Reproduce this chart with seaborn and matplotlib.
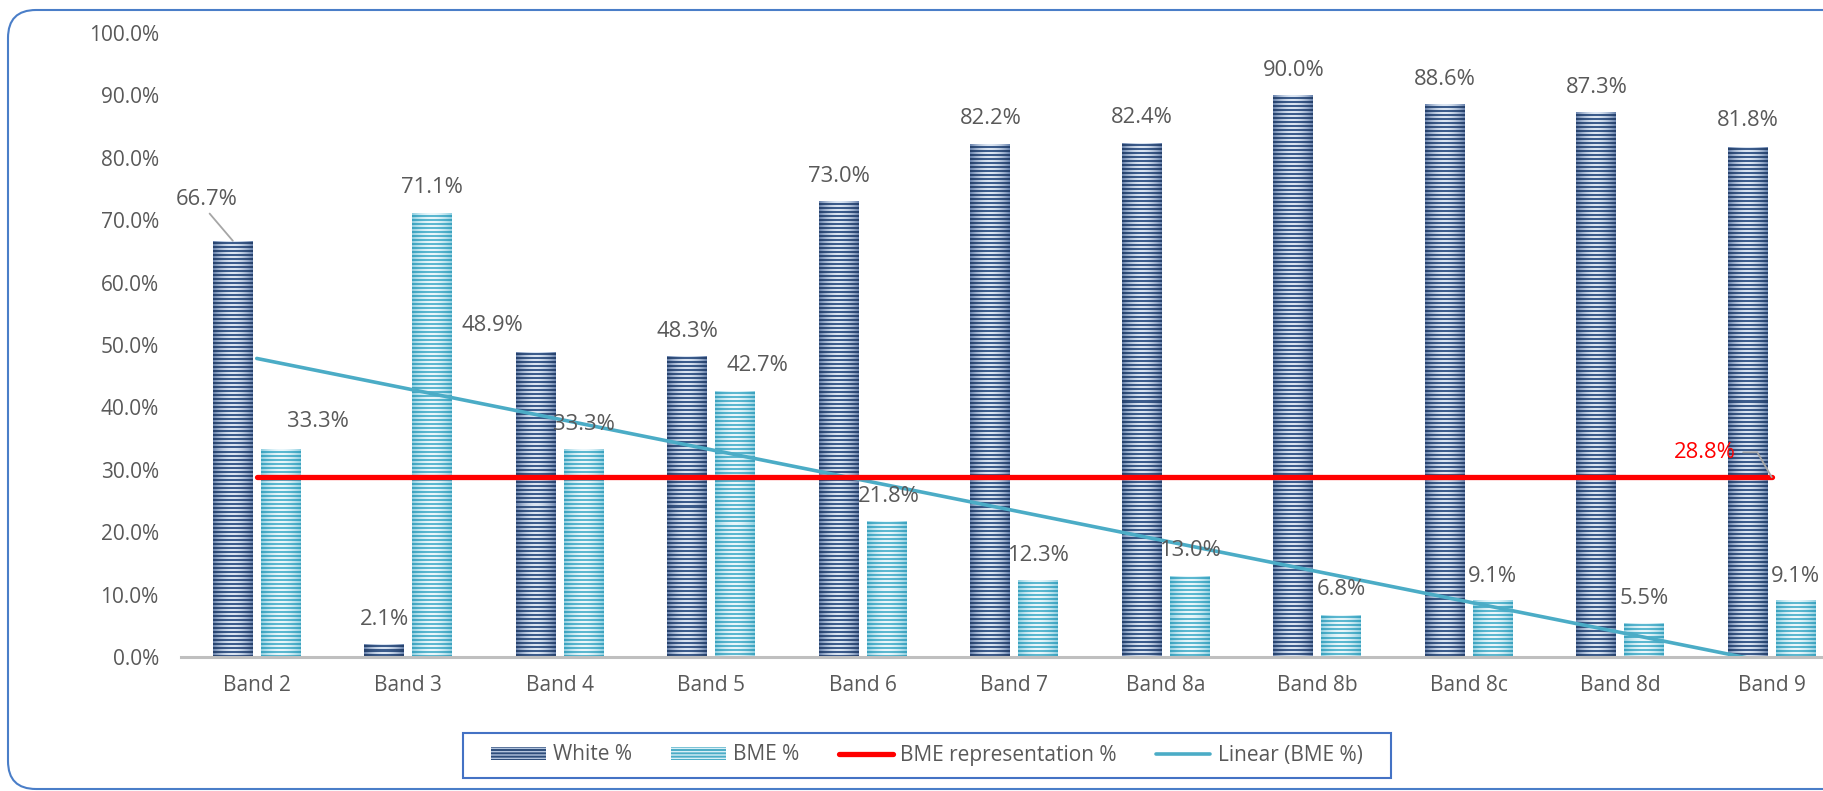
import numpy as np
import pandas as pd
import matplotlib
matplotlib.use("Agg")
import matplotlib.pyplot as plt
import seaborn as sns
from matplotlib.patches import FancyBboxPatch, Rectangle, Patch
from matplotlib.lines import Line2D
from matplotlib.transforms import IdentityTransform
from matplotlib.colors import to_rgb

# ---------------- data ----------------
categories = ["Band 2", "Band 3", "Band 4", "Band 5", "Band 6", "Band 7",
              "Band 8a", "Band 8b", "Band 8c", "Band 8d", "Band 9"]
white_pct = [66.7, 2.1, 48.9, 48.3, 73.0, 82.2, 82.4, 90.0, 88.6, 87.3, 81.8]
bme_pct = [33.3, 71.1, 33.3, 42.7, 21.8, 12.3, 13.0, 6.8, 9.1, 5.5, 9.1]
bme_representation = [28.8] * len(categories)
series_names = ["White %", "BME %"]
legend_labels = ["White %", "BME %", "BME representation %", "Linear (BME %)"]
y_ticks = [0, 10, 20, 30, 40, 50, 60, 70, 80, 90, 100]

# label offsets (pixels) for data labels, as placed in the original
white_dx = [-26, 0, -43, 0, 0, 0, 0, 0, 0, 0, 0]
white_dy = [41, 24, 26, 24, 25, 26, 25, 25, 25, 25, 26]
bme_dx = [37, 0, 0, 22, 2, 0, 0, 0, 0, 0, 0]
bme_dy = [28, 26, 25, 25, 24, 25, 25, 25, 24, 24, 24]

sns.set_theme(style="white")
plt.rcParams["font.family"] = ["Open Sans", "DejaVu Sans"]

W, H = 1824, 791
fig = plt.figure(figsize=(W / 100, H / 100), dpi=100)
fig.patch.set_facecolor("white")
ax = fig.add_axes([181 / W, 1 - 657 / H, (1847.5 - 181) / W, (657 - 33) / H])
ax.set_facecolor("none")

df = pd.DataFrame({
    "Band": categories * 2,
    "Series": [series_names[0]] * len(categories) + [series_names[1]] * len(categories),
    "Value": white_pct + bme_pct,
})
sns.barplot(data=df, x="Band", y="Value", hue="Series", order=categories,
            hue_order=series_names, palette=["#35557f", "#4BACC6"],
            width=0.632, gap=0.165, legend=False, ax=ax, linewidth=0,
            errorbar=None, saturation=1)

ax.set_xlim(-0.5, len(categories) - 0.5)
ax.set_ylim(0, 100)

# ---------- striped / cylindrical texture on bars ----------
def mix(c1, c2, g):
    c1 = np.array(to_rgb(c1)); c2 = np.array(to_rgb(c2))
    return c1[None, :] * (1 - g)[:, None] + c2[None, :] * g[:, None]

styles = [
    dict(ed="#26416b", cd="#3d5d8d", el="#6983ad", cl="#dbe5f2"),
    dict(ed="#3aa2bf", cd="#5db9d1", el="#8fcfe0", cl="#eaf7fb"),
]
py_per_unit = (ax.transData.transform((0, 1))[1] - ax.transData.transform((0, 0))[1])
px_per_unit = (ax.transData.transform((1, 0))[0] - ax.transData.transform((0, 0))[0])

for cont, st in zip(ax.containers, styles):
    for rect in cont:
        x0 = rect.get_x(); w = rect.get_width(); h = rect.get_height()
        hpx = max(int(round(h * py_per_unit)), 1)
        wpx = max(int(round(w * px_per_unit)), 2)
        xx = np.linspace(-1, 1, wpx)
        g = 1 - np.abs(xx) ** 1.8
        dark = mix(st["ed"], st["cd"], g)
        light = mix(st["el"], st["cl"], g)
        rows = np.arange(hpx)
        is_light = (rows % 4) < 2
        img = np.where(is_light[:, None, None], light[None], dark[None])
        im = ax.imshow(img, extent=[x0, x0 + w, 0, h], origin="upper",
                       aspect="auto", interpolation="nearest", zorder=2)
        im.set_clip_path(rect)

ax.set_xlim(-0.5, len(categories) - 0.5)
ax.set_ylim(0, 100)
ax.set_aspect("auto")

# ---------- lines ----------
xs = np.arange(len(categories))
coef = np.polyfit(xs, bme_pct, 1)
ax.plot(xs, np.polyval(coef, xs), color="#4BACC6", lw=2.6, zorder=4)
ax.plot(xs, bme_representation, color="#FF0000", lw=3.8,
        solid_capstyle="round", zorder=5)

# ---------- axes styling ----------
for s in ["left", "right", "top"]:
    ax.spines[s].set_visible(False)
ax.spines["bottom"].set_color("#bfbfbf")
ax.spines["bottom"].set_linewidth(2.2)
ax.spines["bottom"].set_zorder(6)
ax.set_yticks(y_ticks)
ax.set_yticklabels([f"{v:.1f}%" for v in y_ticks])
ax.tick_params(axis="y", length=0, pad=16, labelsize=15, labelcolor="#595959")
ax.tick_params(axis="x", length=0, pad=13, labelsize=15, labelcolor="#595959")
ax.set_xlabel("")
ax.set_ylabel("")
ax.grid(False)

# ---------- data labels ----------
lbl = dict(fontsize=15.8, color="#595959", ha="center", va="center", zorder=7,
           textcoords="offset pixels")
for i, rect in enumerate(ax.containers[0]):
    cx = rect.get_x() + rect.get_width() / 2
    kw = dict(lbl)
    if i == 0:
        kw["arrowprops"] = dict(arrowstyle="-", color="#a6a6a6", lw=1.3,
                                shrinkA=0, shrinkB=0, relpos=(0.5, 0.0))
    ax.annotate(f"{white_pct[i]:.1f}%", xy=(cx, rect.get_height()),
                xytext=(white_dx[i], white_dy[i]), **kw)
for i, rect in enumerate(ax.containers[1]):
    cx = rect.get_x() + rect.get_width() / 2
    ax.annotate(f"{bme_pct[i]:.1f}%", xy=(cx, rect.get_height()),
                xytext=(bme_dx[i], bme_dy[i]), **lbl)

ax.annotate(f"{bme_representation[-1]:.1f}%", xy=(xs[-1], bme_representation[-1]),
            xytext=(-67, 25), textcoords="offset pixels", fontsize=15.8,
            color="#FF0000", ha="center", va="center", zorder=7,
            arrowprops=dict(arrowstyle="-", color="#a6a6a6", lw=1.3,
                            shrinkA=3, shrinkB=0, relpos=(1.0, 0.5),
                            connectionstyle="angle,angleA=0,angleB=120,rad=0"))

# ---------- legend ----------
handles = [
    Patch(facecolor="#2e4d7b", edgecolor="#b3c4dd", hatch="-----", lw=0),
    Patch(facecolor="#4BACC6", edgecolor="#d8eff6", hatch="-----", lw=0),
    Line2D([0], [0], color="#FF0000", lw=3.8, solid_capstyle="round"),
    Line2D([0], [0], color="#4BACC6", lw=2.6),
]
fig.legend(handles, legend_labels, loc="center", bbox_to_anchor=(927 / W, 1 - 755 / H),
           ncol=4, frameon=False, fontsize=15, handlelength=2.6, handleheight=0.6,
           handletextpad=0.35, columnspacing=1.9, labelcolor="#595959")
fig.add_artist(Rectangle((463, H - 778), 1391 - 463, 45, transform=IdentityTransform(),
                         fill=False, edgecolor="#4472C4", lw=1.5))

# ---------- outer rounded frame ----------
fig.add_artist(FancyBboxPatch((8, H - 789), 2000, 779, boxstyle="round,pad=0,rounding_size=28",
                              transform=IdentityTransform(), fill=False,
                              edgecolor="#4A7EC8", lw=1.5))

fig.savefig("out.png", dpi=100, facecolor="white")
